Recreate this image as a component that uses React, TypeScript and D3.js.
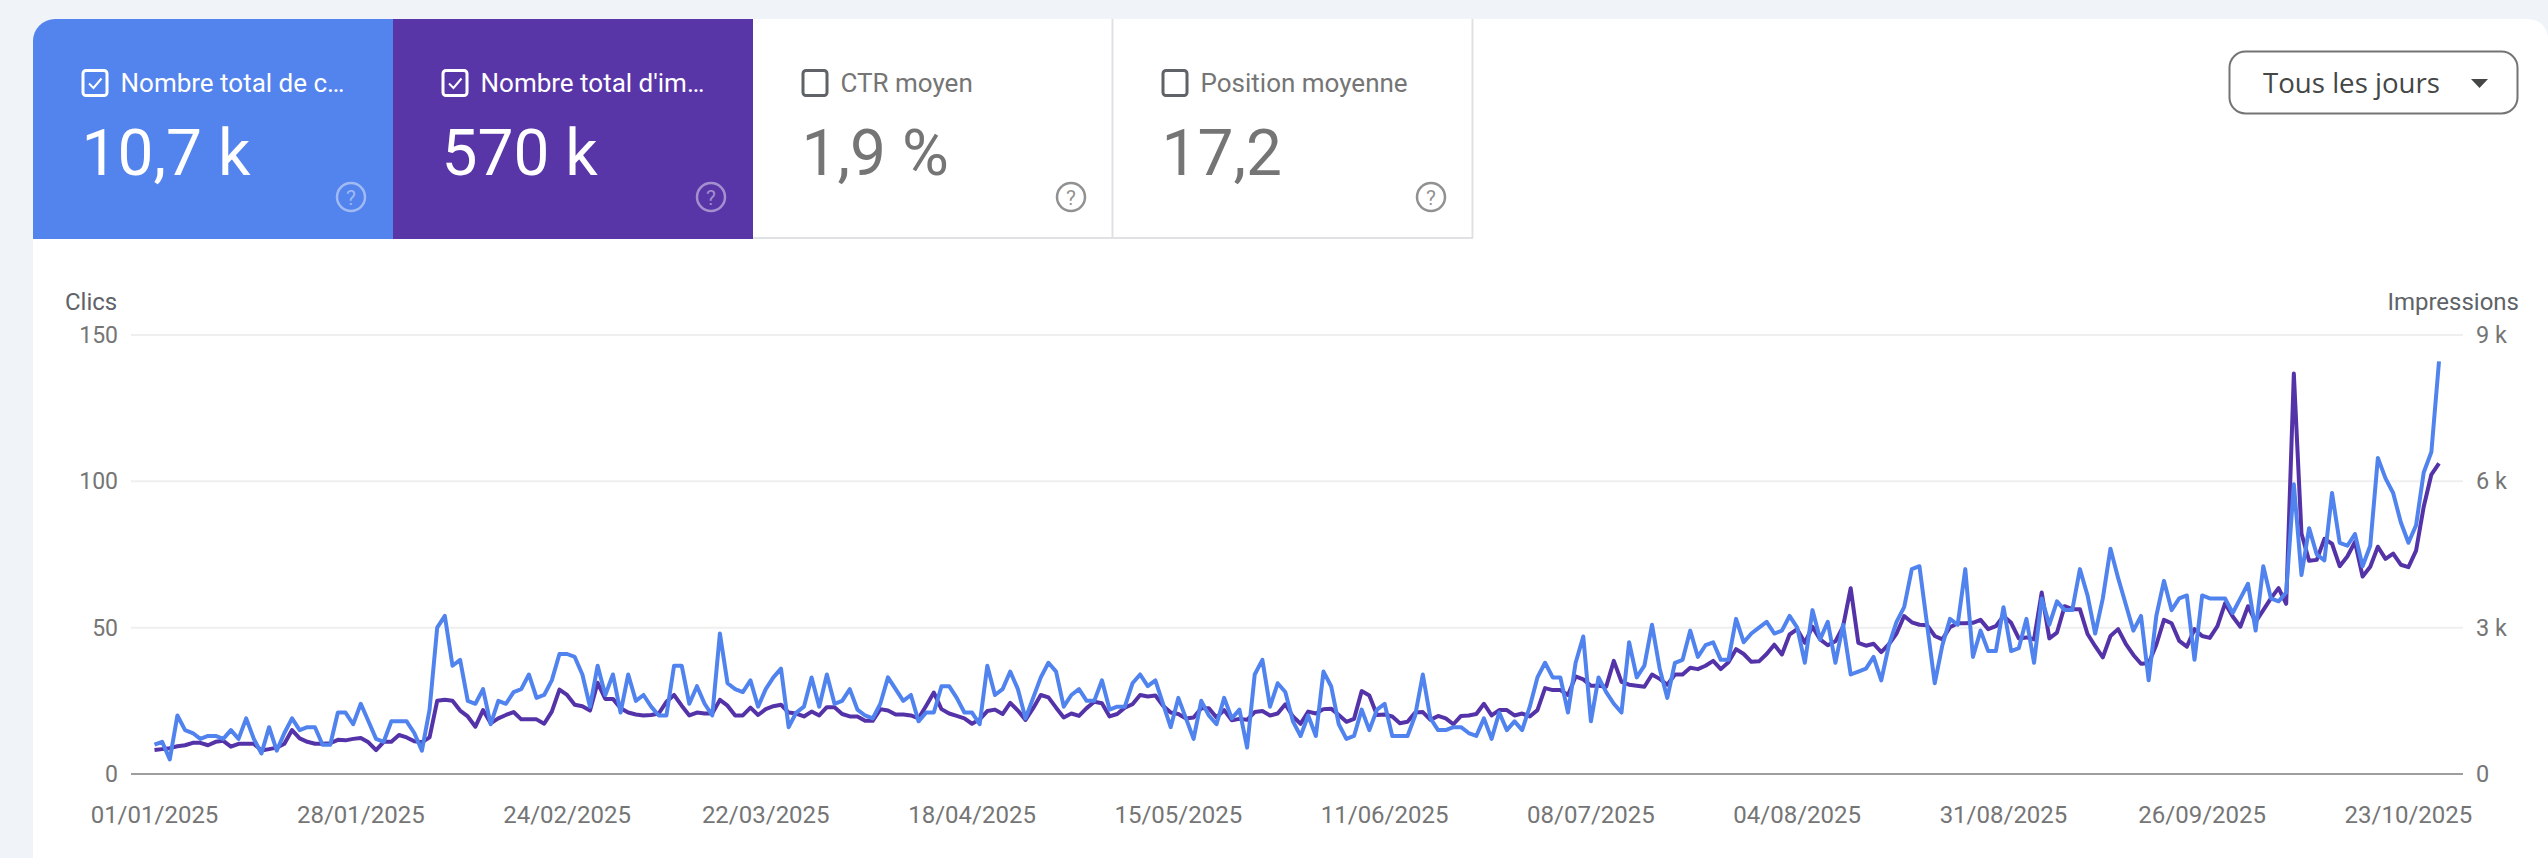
import React from "react";
import * as d3 from "d3";

// daily values, 01/01/2025 onwards
const clicks = [
  10,11,5,20,15,14,12,13,13,12, 15,12,19,12,7,16,8,14,19,15,
  16,16,10,10,21,21,17,24,18,12, 11,18,18,18,14,8,22,50,54,37,
  39,25,24,29,17,25,24,28,29,34, 26,27,32,41,41,40,34,23,37,27,
  34,21,34,25,27,23,20,20,37,37, 24,30,24,20,48,31,29,28,32,23,
  29,33,36,16,21,23,33,23,34,24, 25,29,22,20,19,24,33,29,25,27,
  18,21,21,30,30,26,21,21,17,37, 27,29,35,29,19,26,33,38,35,23,
  27,29,25,25,32,22,23,23,31,34, 30,32,24,16,26,19,12,25,20,17,
  26,19,22,9,34,39,23,31,28,18, 13,20,13,35,30,17,12,13,22,15,
  22,24,13,13,13,20,34,19,15,15, 16,16,14,13,19,12,21,15,18,15,
  23,33,38,33,33,21,38,47,18,33, 28,24,21,45,33,37,51,36,26,38,
  39,49,40,44,45,39,39,53,45,48, 50,52,48,49,54,50,38,56,46,52,
  38,51,34,35,36,40,32,44,52,57, 70,71,51,31,44,53,51,70,40,49,
  42,42,57,42,43,53,38,60,51,59, 56,56,70,61,48,60,77,67,58,49,
  54,32,54,66,56,60,61,39,61,60, 60,60,55,60,65,49,71,60,59,62,
  99,68,84,75,73,96,79,78,82,71, 78,108,101,96,86,79,85,103,110,141,
];

const impressions = [
  490,510,530,570,590,640,640,590,660,680, 560,620,620,620,480,510,540,620,900,730,
  660,620,620,630,700,690,720,740,650,490, 660,660,800,750,670,650,750,1500,1520,1500,
  1300,1180,970,1310,1040,1140,1210,1270,1120,1120, 1120,1030,1280,1730,1620,1420,1390,1300,1870,1540,
  1540,1350,1260,1220,1200,1210,1240,1480,1620,1400, 1200,1260,1240,1240,1520,1400,1200,1200,1360,1210,
  1330,1390,1420,1260,1240,1180,1280,1200,1370,1370, 1230,1180,1180,1090,1090,1330,1300,1220,1220,1200,
  1140,1400,1670,1330,1240,1190,1140,1030,1120,1290, 1320,1230,1460,1300,1110,1350,1620,1570,1360,1160,
  1240,1190,1350,1480,1450,1180,1230,1360,1430,1620, 1590,1610,1400,1260,1230,1140,1160,1350,1350,1160,
  1310,1100,1130,1110,1270,1290,1200,1240,1430,1180, 1030,1280,1240,1330,1340,1210,1070,1130,1700,1610,
  1210,1220,1180,1040,1070,1260,1270,1110,1190,1140, 1020,1190,1200,1230,1440,1200,1310,1310,1200,1240,
  1180,1310,1760,1720,1720,1620,2000,1940,1810,1810, 1790,2320,1890,1830,1810,1790,2040,1950,1830,2040,
  2040,2180,2150,2220,2320,2150,2290,2560,2460,2300, 2310,2460,2650,2450,2860,2970,2690,3020,2760,2640,
  2720,3020,3810,2690,2630,2670,2500,2660,2880,3240, 3110,3060,3050,2830,2760,3010,3090,3090,3100,3160,
  2970,3030,3240,3100,2780,2800,2760,3720,2780,2900, 3440,3380,3380,2870,2620,2390,2830,2970,2670,2440,
  2260,2270,2650,3160,3090,2730,2610,2970,2830,2790, 3030,3500,3230,3020,3440,3120,3360,3600,3810,3490,
  8210,4930,4370,4390,4820,4720,4260,4460,4760,4050, 4250,4660,4410,4520,4290,4240,4580,5480,6140,6370,
];

const dateTicks = [
  "2025-01-01","2025-01-28","2025-02-24","2025-03-22","2025-04-18","2025-05-15",
  "2025-06-11","2025-07-08","2025-08-04","2025-08-31","2025-09-26","2025-10-23",
];
const clickTicks = [0, 50, 100, 150];
const impressionTicks = [0, 3000, 6000, 9000];

const tiles = [
  { label: "Nombre total de c…", value: "10,7 k", checked: true, fill: "#5383ec" },
  { label: "Nombre total d'im…", value: "570 k", checked: true, fill: "#5936a8" },
  { label: "CTR moyen", value: "1,9 %", checked: false, fill: "#fff" },
  { label: "Position moyenne", value: "17,2", checked: false, fill: "#fff" },
];

const W = 2548;
const H = 858;
const FONT = "Roboto, sans-serif";
const start = new Date(Date.UTC(2025, 0, 1));
const dates = clicks.map((_, i) => d3.utcDay.offset(start, i));

const x = d3.scaleUtc().domain([dates[0], dates[dates.length - 1]]).range([154.5, 2439]);
const yClicks = d3.scaleLinear().domain([0, 150]).range([774, 335]);
const yImpr = d3.scaleLinear().domain([0, 9000]).range([774, 335]);
const fmtDate = d3.utcFormat("%d/%m/%Y");
const fmtImpr = (v: number) => (v === 0 ? "0" : `${v / 1000} k`);

const clickLine = d3.line<number>().x((_, i) => x(dates[i])).y((d) => yClicks(d));
const imprLine = d3.line<number>().x((_, i) => x(dates[i])).y((d) => yImpr(d));

const Tile = ({ t, i }: { t: (typeof tiles)[number]; i: number }) => {
  const x0 = 33 + i * 360;
  const dark = t.checked;
  const box = x0 + 48.5;
  return (
    <g>
      {i === 0 ? (
        <path d={`M33 239V41a22 22 0 0 1 22-22H393V239Z`} fill={t.fill} />
      ) : (
        <rect x={x0} y={19} width={360} height={220} fill={t.fill} />
      )}
      <rect x={box + 1.5} y={70.5} width={24} height={25} rx={3} fill="none" stroke={dark ? "#fff" : "#5f6368"} strokeWidth={3} />
      {dark && <path d={`M${box + 7.5} 83.5l4.5 4.5 8-9.5`} fill="none" stroke="#fff" strokeWidth={2} />}
      <text x={box + 39} y={92} fontSize={26} fill={dark ? "#fff" : "#757575"}>{t.label}</text>
      <text x={box} y={175} fontSize={64} fill={dark ? "#fff" : "#757575"}>{t.value}</text>
      <circle cx={x0 + 318} cy={197} r={14} fill="none" stroke={dark ? "#fff" : "#757575"} strokeOpacity={dark ? 0.45 : 0.8} strokeWidth={2.5} />
      <text x={x0 + 318} y={204.5} fontSize={21} textAnchor="middle" fill={dark ? "#fff" : "#757575"} fillOpacity={dark ? 0.45 : 0.8}>?</text>
    </g>
  );
};

export default function App() {
  return (
    <svg width={W} height={H} viewBox={`0 0 ${W} ${H}`} fontFamily={FONT} style={{ position: "absolute", left: 0, top: 0, display: "block" }}>
      <rect width={W} height={H} fill="#f0f4f9" />
      <path d={`M33 ${H}V41a22 22 0 0 1 22-22H${W - 20}a20 20 0 0 1 20 20V${H}Z`} fill="#fff" />

      {tiles.map((t, i) => <Tile key={t.label} t={t} i={i} />)}
      <path d="M753 238H1473M1112.5 19V238M1472.5 19V238" fill="none" stroke="#dfe1e5" strokeWidth={2} />

      <rect x={2229.5} y={51.5} width={288} height={62} rx={16} fill="#fff" stroke="#747474" strokeWidth={2} />
      <text x={2263} y={93} fontSize={26.5} fill="#444746" fontFamily="'Open Sans', sans-serif" textLength={177} lengthAdjust="spacingAndGlyphs">Tous les jours</text>
      <path d="M2471 79h17l-8.5 9Z" fill="#444746" />

      <text x={65} y={310} fontSize={24} fill="#5f6368">Clics</text>
      <text x={2519} y={310} fontSize={24} fill="#5f6368" textAnchor="end">Impressions</text>

      {clickTicks.map((t) => (
        <g key={t}>
          <line x1={131} x2={2463} y1={yClicks(t)} y2={yClicks(t)} stroke={t === 0 ? "#9e9e9e" : "#efefef"} strokeWidth={2} />
          <text x={118} y={yClicks(t) + 8} fontSize={23} fill="#757575" textAnchor="end">{t}</text>
        </g>
      ))}
      {impressionTicks.map((t) => (
        <text key={t} x={2476} y={yImpr(t) + 8} fontSize={23.5} fill="#757575">{fmtImpr(t)}</text>
      ))}
      {dateTicks.map((s) => {
        const d = new Date(s + "T00:00:00Z");
        return (
          <text key={s} x={x(d)} y={822.5} fontSize={24} fill="#757575" textAnchor="middle">{fmtDate(d)}</text>
        );
      })}

      <path d={imprLine(impressions) ?? ""} fill="none" stroke="#5433a8" strokeWidth={4} strokeLinejoin="round" />
      <path d={clickLine(clicks) ?? ""} fill="none" stroke="#5083ee" strokeWidth={4} strokeLinejoin="round" />
    </svg>
  );
}
